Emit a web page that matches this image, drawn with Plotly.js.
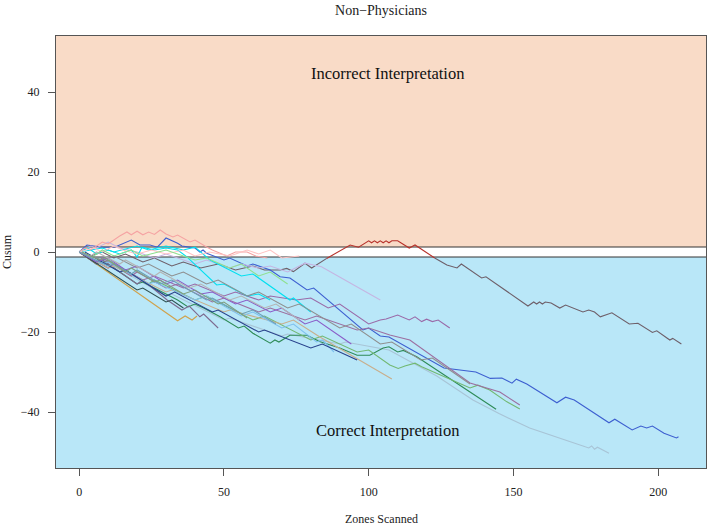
<!DOCTYPE html>
<html><head><meta charset="utf-8">
<script src="https://cdn.plot.ly/plotly-3.0.1.min.js"></script>
<style>html,body{margin:0;padding:0;background:#fff}#chart{width:709px;height:525px}</style>
</head><body><div id="chart"></div>
<script>
const xTicks = [0, 50, 100, 150, 200];
const yTicks = [-40, -20, 0, 20, 40];
const bandHalf = 1.25;

// each series: zones scanned (x) and cusum (y), turning points
const s01x = [0,4,8,12,16,22,26,32,36,42,48,54,60,64,69.4,71.7,74,78,80.3,85.5];
const s01y = [0,-1,0,-1.5,-0.5,-2.5,-1.5,-3.5,-2.5,-4,-3,-4.5,-3.5,-4.5,-4.5,-4.1,-4.9,-2.8,-4,-1.6];
const s02x = [85.5,93.6,96.5,100,101,102,103,104,105,106,107,108,110,114,116,122.8];
const s02y = [-1.6,1.75,1.2,2.8,2.3,2.8,2.3,2.8,2.3,2.8,2.3,2.8,2.8,1,1.75,-1.5];
const s03x = [122.8,127,130.5,132,139,140.5,155,157,158,159,160,161,163,166,168,174,176,178,180,184,190,193,198,199.5,204,205,208];
const s03y = [-1.5,-3.25,-4,-3,-6.5,-6.2,-13.5,-12.5,-13,-12.5,-13,-12.5,-12.75,-14,-13.25,-15,-14.5,-15,-16.2,-15.2,-18,-17.8,-20.1,-19.7,-22,-21.6,-23];
const s04x = [0,2.7,8,12.4,18,21,24.5,27,30,34,35.5,40,41.7,42.8,44,50,52,58,60,66,69.4,72.8,78.7,81,98,100,104,107,126,137,142,146,149.5,151,154.6,165,168,171,183,185,191,194,196,198,202,206.3,207];
const s04y = [0,1.75,1.2,1.25,3,1.75,1.75,1.2,3.5,2.2,1.5,1,0,0.5,-0.3,-2,-1.5,-3.5,-3,-4.5,-6.2,-6.5,-9.5,-9,-19.5,-19,-21,-21.25,-29,-30,-31.6,-31.5,-32.8,-31.8,-33,-37.7,-36.3,-37,-42.7,-41.8,-44.5,-43.5,-44,-43.5,-45.3,-46.5,-46.2];
const s05x = [0,10,12,30,32,50,52,70,72,90,92,107,123.5,129,136,145,155.6,169.4,176,177,178,179,183];
const s05y = [0,-4,-3.5,-11,-10.5,-17,-16.5,-21,-20.5,-23,-22.5,-24.5,-31,-33.7,-37,-40.4,-44,-47.4,-49,-48.5,-49.3,-48.8,-50.3];
const s06x = [0,6,8,20,22,34,37.6,40,43,48.7,55,57,60,66,67.6,69,72.8,78.7,83,90,96,100.4,105,107,110,112,116.6,144];
const s06y = [0,-3,-2,-8,-7.5,-12,-13.75,-13,-14,-16.2,-19,-18.5,-20.3,-22.8,-22,-22.5,-20.8,-20.8,-22.4,-24,-25.8,-25.8,-24,-23.7,-25,-24.6,-26.2,-39.3];
const s07x = [0,8,10,24,26,40,44,60,64,80,84,96,100,107.3,110.2,112.5,116,118.3,123.4,135,137.7,141.8,147.6,152.2];
const s07y = [0,-3,-2,-8,-7,-12,-11,-17,-16,-22,-21,-25,-24.5,-28.25,-29.1,-28.5,-27.8,-28.7,-30.3,-34,-33.3,-34.5,-37.4,-39.25];
const s08x = [0,6,8,18,20,30,34,46,50,62,66,78,82,96,100,107.3,114.2,135,145.3,152.2];
const s08y = [0,-2.5,-1.5,-6,-5,-9,-8,-12.5,-11.5,-15,-14,-17,-16,-19.5,-19,-20.75,-22,-32.75,-35,-38.25];
const s09x = [0,4,6,10,14,20,26,30,40,44,52,56,62,66,72,78,83.7,104];
const s09y = [0,1.5,1,2.5,1,0,-1.5,-0.5,-3,-2,-4,-3,-4,-3.5,-5,-2.8,-3.7,-12];
const s10x = [0,10,12,22,26,36,40,50,54,62,66,75,80,86,90,96,100,104,106,110,114,116,118.3,120,122,124,128];
const s10y = [0,-4,-3,-7,-6,-9,-8,-11,-10,-12,-11,-12,-11.5,-14,-13,-16,-18,-17,-16.75,-15.75,-17,-16.2,-17.4,-16.8,-17.4,-17,-19];
const s11x = [0,24,34,36.6,39,40.7];
const s11y = [0,-12,-17.2,-16,-17,-16];
const s12x = [0,6,8,20,22,30.4,35.5,38,41.7,43,48];
const s12y = [0,-3,-2,-8,-7,-12,-14.5,-13.5,-16.2,-15.5,-19];
const s13x = [0,3,6,10,14,18,20,21.7,26,30,34,37.2,47.5,50,58,62,66];
const s13y = [0,1,-0.5,0.5,-0.5,0.5,-1.25,1.2,0.5,1,0.5,-1.2,-8.25,-8,-11,-10.5,-12];
const s14x = [0,8,12,20,24,30,36,40,45.2,56,60,72.8,74,80];
const s14y = [0,1,0,1.5,0.5,1.5,0.5,1.2,-2,-6,-5.5,-12,-11.5,-15];
const s15x = [0,2,4,8,10,14,16.5,18,20,22,24,26,28,30,32.4,34,38.3,40,44,46,48.7,51,54,58,61,65];
const s15y = [0,1,0.5,2.5,2,4,5,4.3,5.2,4.3,5,4.4,5.5,4.5,3.75,4.25,2.5,3,1.25,0.5,-0.3,-1,0,0,-1,-1.5];
const s16x = [0,5,8,12,15,20,25,30,36,40,45,52,58,62,66,70,76];
const s16y = [0,1,0,1.5,0.5,-0.5,0.5,-0.5,0.5,-1,0,-1,0.5,-0.5,0.5,-1.5,-1];
const s17x = [0,10,12,30,32,50,52,70,74,83,108];
const s17y = [0,-4,-3.5,-10,-9.5,-15,-14.5,-18,-17,-21.2,-31.75];
const s18x = [0,8,10,24,26,40,44,56,60,70,74,82,84,88];
const s18y = [0,-3,-2.5,-8,-7.5,-12,-11,-16,-15,-19,-18,-22.5,-22,-25];
const s19x = [0,20,22,30,32,36];
const s19y = [0,-9.5,-9,-12.5,-12,-14];
const s20x = [2,14,16,30,33,46,48,62,64,80,84,96];
const s20y = [0,-5,-4.5,-11,-10,-15,-14.5,-20,-19.5,-24,-23,-27];
const s21x = [0,4,8,12,18,22,30,34,40,44,52,56,62,66,72];
const s21y = [0,-1.5,0.5,-1,0.5,-1,0.5,-0.5,-2,-1.5,-4,-3,-6,-5,-8];
const s22x = [0,8,12,20,24,32,36,44,48,58,62,72,76,90,94,104,108,118,122,135];
const s22y = [0,-2,-1,-4,-3,-6,-5,-8,-7,-11,-10,-14,-13,-19,-18,-23,-22.5,-27,-26.5,-33];
const s23x = [0,6,10,16,20,30,34,42,46,54,58,66,70,78,82,94];
const s23y = [0,-2.5,-1.5,-4.5,-3.5,-8,-7,-10.5,-10,-13,-12,-15,-14,-18,-17,-23];
const s24x = [0,4,6,14,16,26,28,38,42,52,56,64,68,76];
const s24y = [0,-1,0,-3,-2,-6,-5,-9,-8,-12,-11,-14,-13,-17];
const s25x = [0,10,12,18,20,28,32,44,46,56,60,68];
const s25y = [0,-3.5,-3,-5.5,-4.5,-8,-7,-12,-11.5,-15.5,-14.5,-18];
const s26x = [1,7,9,16,18,26,28,36,40,48,50,58];
const s26y = [0,-2,-1.5,-5,-4,-7.5,-7,-10.5,-9.5,-13,-12.5,-16.5];

const seriesX = [s01x,s02x,s03x,s04x,s05x,s06x,s07x,s08x,s09x,s10x,s11x,s12x,s13x,s14x,s15x,s16x,s17x,s18x,s19x,s20x,s21x,s22x,s23x,s24x,s25x,s26x];
const seriesY = [s01y,s02y,s03y,s04y,s05y,s06y,s07y,s08y,s09y,s10y,s11y,s12y,s13y,s14y,s15y,s16y,s17y,s18y,s19y,s20y,s21y,s22y,s23y,s24y,s25y,s26y];
const seriesColor = ['#6E5F69','#B8322B','#6E5F69','#3D5FD0','#A8C4D6','#2E8B57','#72B872','#9C6FA0','#C5B5E2','#9A6AA8','#D0A24C','#7D6B90','#00E0F0','#00E0F0','#F5A3A3','#FFC4C4','#C8AE8C','#7EC0EE','#2F4F4F','#27408B','#8FE08F','#8E8E8E','#8A5CC8','#B4B4B4','#6CA0B8','#7F9F7F'];

const traces = seriesX.map((x, i) => ({
  x: x, y: seriesY[i], type: 'scatter', mode: 'lines',
  line: {color: seriesColor[i], width: 1.1},
  hoverinfo: 'skip', showlegend: false
}));

const serif = '"Liberation Serif", "Times New Roman", Times, serif';
const axisCommon = {
  showgrid: false, zeroline: false, showline: true, mirror: true,
  linecolor: '#555', linewidth: 1, ticks: 'outside', ticklen: 7, tickcolor: '#555',
  tickfont: {family: serif, size: 12, color: '#222'}, fixedrange: true
};

const layout = {
  width: 709, height: 525,
  margin: {l: 56, r: 3, t: 36, b: 57},
  paper_bgcolor: '#fff', plot_bgcolor: '#fff',
  title: {text: 'Non\u2212Physicians', font: {family: serif, size: 14, color: '#222'}, xref: 'paper', x: 0.5, xanchor: 'center', y: 1 - 10/525, yanchor: 'middle', yref: 'container'},
  xaxis: Object.assign({}, axisCommon, {range: [-8, 216.5], tickvals: xTicks, ticktext: xTicks.map(String), ticklabelstandoff: 6}),
  yaxis: Object.assign({}, axisCommon, {range: [-54, 54], tickvals: yTicks, ticklabelstandoff: 6}),
  shapes: [
    {type: 'rect', xref: 'paper', yref: 'y', x0: 0, x1: 1, y0: bandHalf, y1: 54, fillcolor: '#F9DBC7', line: {width: 0}, layer: 'below'},
    {type: 'rect', xref: 'paper', yref: 'y', x0: 0, x1: 1, y0: -54, y1: -bandHalf, fillcolor: '#B9E7F8', line: {width: 0}, layer: 'below'},
    {type: 'line', xref: 'paper', yref: 'y', x0: 0, x1: 1, y0: bandHalf, y1: bandHalf, line: {color: '#333', width: 1}, layer: 'below'},
    {type: 'line', xref: 'paper', yref: 'y', x0: 0, x1: 1, y0: -bandHalf, y1: -bandHalf, line: {color: '#333', width: 1}, layer: 'below'}
  ],
  annotations: [
    {text: 'Incorrect Interpretation', x: 106.5, y: 44.75, xref: 'x', yref: 'y', showarrow: false, font: {family: serif, size: 16.5, color: '#111'}},
    {text: 'Correct Interpretation', x: 106.5, y: -44.5, xref: 'x', yref: 'y', showarrow: false, font: {family: serif, size: 16.5, color: '#111'}},
    {text: 'Zones Scanned', xref: 'paper', yref: 'paper', x: 0.5, y: -51/432, xanchor: 'center', yanchor: 'middle', showarrow: false, font: {family: serif, size: 12, color: '#222'}},
    {text: 'Cusum', xref: 'paper', yref: 'paper', x: -49/650, y: 0.5, xanchor: 'center', yanchor: 'middle', textangle: -90, showarrow: false, font: {family: serif, size: 12, color: '#222'}}
  ]
};

Plotly.newPlot('chart', traces, layout, {displayModeBar: false, staticPlot: true});
</script>
</body></html>
